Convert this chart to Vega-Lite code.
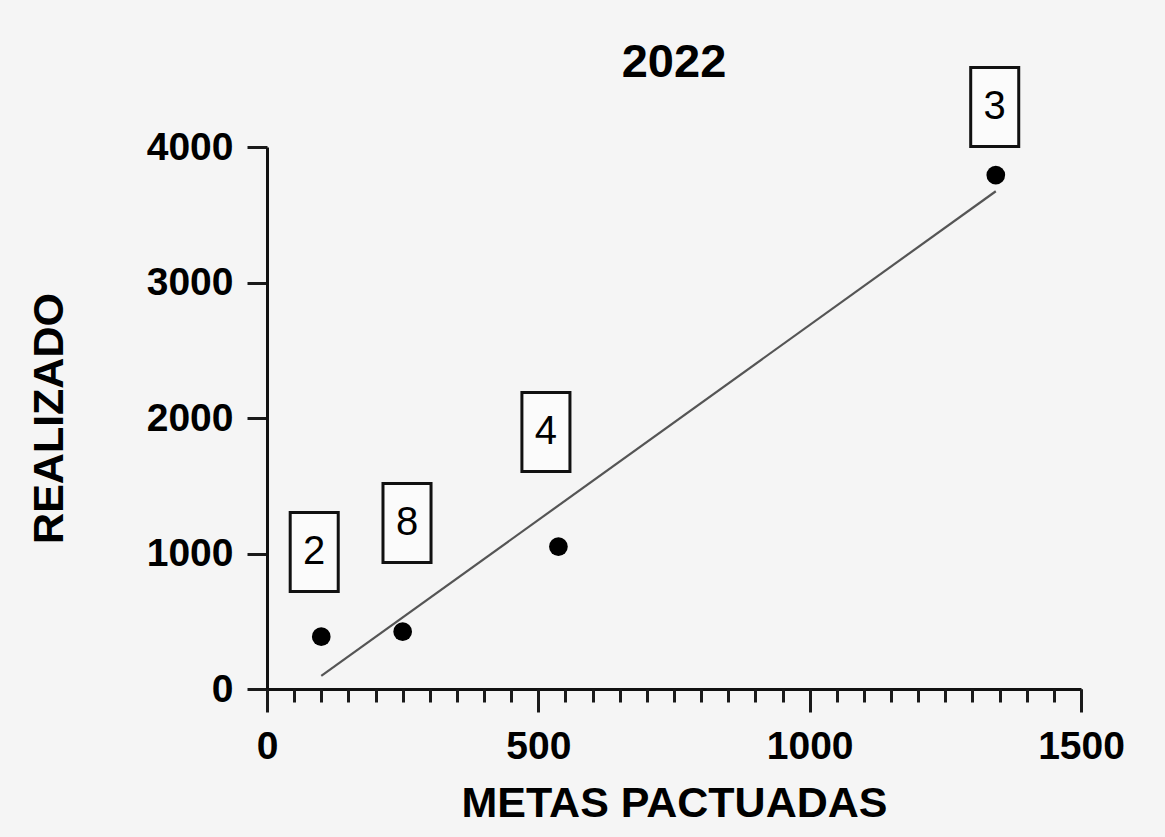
{
  "$schema": "https://vega.github.io/schema/vega-lite/v6.json",
  "width": 814,
  "height": 542,
  "autosize": {"type": "none"},
  "padding": {"left": 267, "top": 147, "right": 84, "bottom": 148},
  "background": "#f5f5f5",
  "title": {"text": "2022", "frame": "group", "anchor": "middle", "baseline": "alphabetic", "offset": 0, "dy": 62, "fontSize": 47, "font": "Liberation Sans", "fontWeight": "bold", "color": "#000000"},
  "config": {
    "view": {"stroke": null},
    "axis": {
      "grid": false,
      "domainColor": "#111111",
      "domainWidth": 3,
      "tickColor": "#1a1a1a",
      "tickWidth": 3,
      "labelFont": "Liberation Sans",
      "labelFontWeight": "bold",
      "labelFontSize": 39,
      "labelColor": "#000000",
      "titleFont": "Liberation Sans",
      "titleFontWeight": "bold",
      "titleFontSize": 43,
      "titleColor": "#000000",
      "labelFlush": false,
      "labelOverlap": false,
      "format": "d"
    }
  },
  "data": {
    "values": [
      {"grupo": "2", "metas": 100, "realizado": 386, "etiqueta_x": 87, "etiqueta_y": 1011},
      {"grupo": "8", "metas": 250, "realizado": 423, "etiqueta_x": 258, "etiqueta_y": 1225},
      {"grupo": "4", "metas": 537, "realizado": 1050, "etiqueta_x": 514, "etiqueta_y": 1897},
      {"grupo": "3", "metas": 1343, "realizado": 3793, "etiqueta_x": 1341, "etiqueta_y": 4295}
    ]
  },
  "layer": [
    {
      "transform": [{"regression": "realizado", "on": "metas"}],
      "mark": {"type": "line", "color": "#555555", "strokeWidth": 2.2, "clip": false},
      "encoding": {
        "x": {"field": "metas", "type": "quantitative", "title": "METAS PACTUADAS",
              "scale": {"domain": [0, 1500], "nice": false},
              "axis": {"orient": "bottom", "values": [0, 500, 1000, 1500], "format": "d", "tickSize": 23, "labelPadding": 15, "titlePadding": 16}},
        "y": {"field": "realizado", "type": "quantitative", "title": "REALIZADO",
              "scale": {"domain": [0, 4000], "nice": false},
              "axis": {"values": [0, 1000, 2000, 3000, 4000], "format": "d", "tickSize": 20, "labelPadding": 14, "titlePadding": 75}}
      }
    },
    {
      "mark": {"type": "point", "shape": "circle", "filled": true, "color": "#000000", "opacity": 1, "size": 350, "clip": false},
      "encoding": {
        "x": {"field": "metas", "type": "quantitative", "title": null,
              "scale": {"domain": [0, 1500], "nice": false},
              "axis": {"orient": "bottom", "values": [0, 50, 100, 150, 200, 250, 300, 350, 400, 450, 500, 550, 600, 650, 700, 750, 800, 850, 900, 950, 1000, 1050, 1100, 1150, 1200, 1250, 1300, 1350, 1400, 1450, 1500], "labels": false, "domain": false, "tickSize": 13, "tickWidth": 3}},
        "y": {"field": "realizado", "type": "quantitative", "title": "REALIZADO",
              "scale": {"domain": [0, 4000], "nice": false}}
      }
    },
    {
      "mark": {"type": "point", "shape": "M-0.608,-1L0.608,-1L0.608,1L-0.608,1Z", "filled": false, "fill": "#fbfbfb", "fillOpacity": 1, "stroke": "#111111", "strokeWidth": 3, "opacity": 1, "size": 6241, "clip": false},
      "encoding": {
        "x": {"field": "etiqueta_x", "type": "quantitative", "axis": null,
              "scale": {"domain": [0, 1500], "nice": false}},
        "y": {"field": "etiqueta_y", "type": "quantitative", "title": "REALIZADO",
              "scale": {"domain": [0, 4000], "nice": false}}
      }
    },
    {
      "mark": {"type": "text", "font": "Liberation Sans", "fontSize": 40, "color": "#000000", "align": "center", "baseline": "middle", "clip": false},
      "encoding": {
        "x": {"field": "etiqueta_x", "type": "quantitative", "axis": null,
              "scale": {"domain": [0, 1500], "nice": false}},
        "y": {"field": "etiqueta_y", "type": "quantitative", "title": "REALIZADO",
              "scale": {"domain": [0, 4000], "nice": false}},
        "text": {"field": "grupo", "type": "nominal"}
      }
    }
  ],
  "resolve": {"axis": {"x": "independent"}}
}
